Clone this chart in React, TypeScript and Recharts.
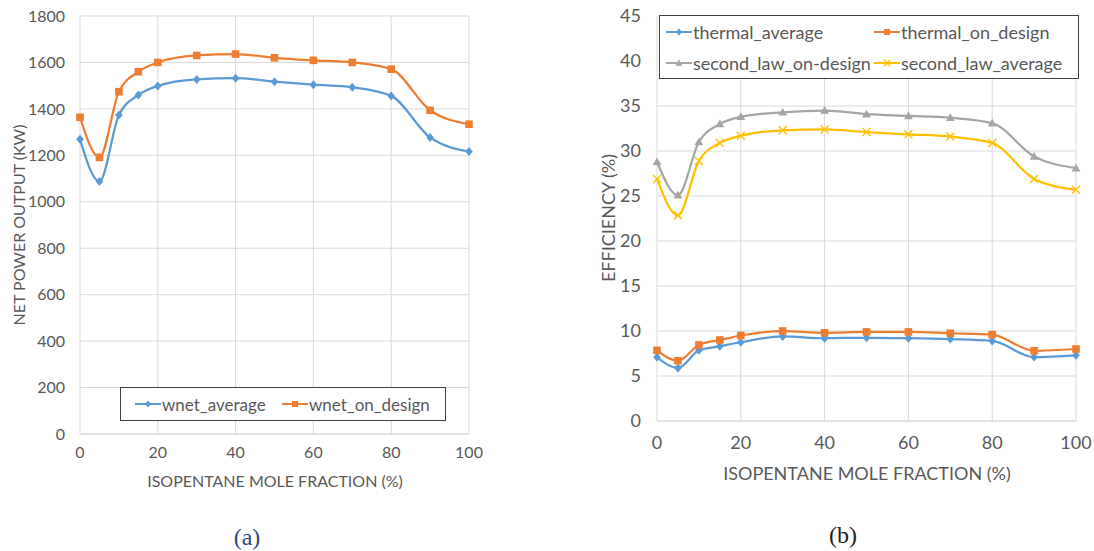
import React from 'react';
import { LineChart, Line, XAxis, YAxis, CartesianGrid } from 'recharts';

// isopentane mole fraction (%)
const fraction = [0, 5, 10, 15, 20, 30, 40, 50, 60, 70, 80, 90, 100];

// (a) net power output, kW
const wnetAverage = [1269, 1087, 1374, 1460, 1499, 1527, 1532, 1517, 1504, 1493, 1456, 1277, 1216];
const wnetOnDesign = [1364, 1191, 1474, 1560, 1600, 1630, 1636, 1620, 1609, 1600, 1571, 1394, 1334];

// (b) efficiency, %
const thermalAverage = [7.07, 5.9, 7.85, 8.3, 8.75, 9.4, 9.2, 9.25, 9.2, 9.1, 8.9, 7.1, 7.3];
const thermalOnDesign = [7.85, 6.7, 8.45, 9.0, 9.5, 10.0, 9.8, 9.9, 9.9, 9.75, 9.6, 7.8, 8.0];
const secondLawOnDesign = [28.8, 25.1, 31.0, 33.0, 33.8, 34.3, 34.5, 34.1, 33.9, 33.7, 33.1, 29.4, 28.1];
const secondLawAverage = [26.9, 22.85, 28.9, 30.9, 31.7, 32.3, 32.4, 32.1, 31.85, 31.6, 30.9, 26.9, 25.7];

const xTicks = [0, 20, 40, 60, 80, 100];
const powerTicks = [0, 200, 400, 600, 800, 1000, 1200, 1400, 1600, 1800];
const effTicks = [0, 5, 10, 15, 20, 25, 30, 35, 40, 45];

const BLUE = '#5B9BD5';
const ORANGE = '#ED7D31';
const GRAY = '#A5A5A5';
const YELLOW = '#FFC000';
const TEXT = '#595959';
const GRID = '#D9D9D9';
const FONT = 'Lato, "Open Sans", sans-serif';

const powerData = fraction.map((f, i) => ({
  f,
  wnet_average: wnetAverage[i],
  wnet_on_design: wnetOnDesign[i],
}));

const effData = fraction.map((f, i) => ({
  f,
  thermal_average: thermalAverage[i],
  thermal_on_design: thermalOnDesign[i],
  second_law_on_design: secondLawOnDesign[i],
  second_law_average: secondLawAverage[i],
}));

type Shape = 'diamond' | 'square' | 'triangle' | 'x';

function marker(shape: Shape, color: string, cx: number, cy: number, s = 1) {
  if (shape === 'diamond') {
    const r = 4.5 * s;
    return <path d={`M${cx},${cy - r}L${cx + r * 0.85},${cy}L${cx},${cy + r}L${cx - r * 0.85},${cy}Z`} fill={color} />;
  }
  if (shape === 'square') {
    const r = 3.8 * s;
    return <rect x={cx - r} y={cy - r} width={r * 2} height={r * 2} fill={color} />;
  }
  if (shape === 'triangle') {
    const r = 4.4 * s;
    return <path d={`M${cx},${cy - r}L${cx + r},${cy + r * 0.75}L${cx - r},${cy + r * 0.75}Z`} fill={color} />;
  }
  const r = 4 * s;
  return (
    <path
      d={`M${cx - r},${cy - r}L${cx + r},${cy + r}M${cx - r},${cy + r}L${cx + r},${cy - r}`}
      stroke={color}
      strokeWidth={1.4}
      fill="none"
    />
  );
}

const dot = (shape: Shape, color: string) => (p: any) => (
  <g key={`${shape}-${p.index}`}>{marker(shape, color, p.cx, p.cy)}</g>
);

interface LegendItem {
  name: string;
  color: string;
  shape: Shape;
}

function LegendBox({
  items, colWidths, fontSize, rowHeight, left, top, width, padLeft,
}: {
  items: LegendItem[]; colWidths: number[]; fontSize: number; rowHeight: number; left: number; top: number; width: number; padLeft: number;
}) {
  return (
    <div
      style={{
        position: 'absolute',
        left,
        top,
        width,
        border: '1.5px solid #404040',
        background: '#fff',
        boxSizing: 'border-box',
        display: 'flex',
        flexWrap: 'wrap',
        paddingLeft: padLeft,
        fontFamily: FONT,
        fontSize,
        color: TEXT,
      }}
    >
      {items.map((it, i) => (
        <div key={it.name} style={{ display: 'flex', alignItems: 'center', width: colWidths[i % colWidths.length], height: rowHeight }}>
          <svg width={26} height={12} style={{ marginRight: 1 }}>
            <line x1={0} y1={6} x2={26} y2={6} stroke={it.color} strokeWidth={2} />
            {marker(it.shape, it.color, 13, 6, 0.8)}
          </svg>
          <span>{it.name}</span>
        </div>
      ))}
    </div>
  );
}

const tickStyle = (size: number) => ({ fill: TEXT, fontSize: size, fontFamily: FONT });

export default function App() {
  return (
    <div style={{ position: 'absolute', left: 0, top: 0, width: 1094, height: 551, background: '#fff', overflow: 'hidden' }}>
      {/* (a) */}
      <div style={{ position: 'absolute', left: 0, top: 0 }}>
        <LineChart width={500} height={551} data={powerData} margin={{ top: 16, right: 31, left: 20, bottom: 87 }}>
          <CartesianGrid stroke={GRID} strokeWidth={1} />
          <XAxis
            dataKey="f"
            type="number"
            domain={[0, 100]}
            ticks={xTicks}
            axisLine={{ stroke: GRID }}
            tickLine={false}
            tickMargin={7}
            height={30}
            tick={tickStyle(16)}
          />
          <YAxis
            domain={[0, 1800]}
            ticks={powerTicks}
            axisLine={false}
            tickLine={false}
            tickMargin={9}
            width={60}
            tick={tickStyle(16)}
          />
          <Line type="monotone" dataKey="wnet_average" stroke={BLUE} strokeWidth={2.25} dot={dot('diamond', BLUE)} isAnimationActive={false} />
          <Line type="monotone" dataKey="wnet_on_design" stroke={ORANGE} strokeWidth={2.25} dot={dot('square', ORANGE)} isAnimationActive={false} />
        </LineChart>
      </div>
      <LegendBox
        left={120}
        top={387}
        width={326}
        padLeft={14}
        items={[
          { name: 'wnet_average', color: BLUE, shape: 'diamond' },
          { name: 'wnet_on_design', color: ORANGE, shape: 'square' },
        ]}
        colWidths={[147, 160]}
        fontSize={17}
        rowHeight={32}
      />
      <div
        style={{
          position: 'absolute',
          left: 18,
          top: 225,
          transform: 'translate(-50%, -50%) rotate(-90deg)',
          whiteSpace: 'nowrap',
          fontFamily: FONT,
          fontSize: 16,
          color: TEXT,
        }}
      >
        NET POWER OUTPUT (KW)
      </div>
      <div
        style={{ position: 'absolute', left: 275, top: 480, transform: 'translate(-50%, -50%)', whiteSpace: 'nowrap', fontFamily: FONT, fontSize: 16, color: TEXT }}
      >
        ISOPENTANE MOLE FRACTION (%)
      </div>
      <div
        style={{ position: 'absolute', left: 247, top: 537, transform: 'translate(-50%, -50%)', fontFamily: '"Liberation Serif", serif', fontSize: 24, color: '#2E4A7D' }}
      >
        (a)
      </div>

      {/* (b) */}
      <div style={{ position: 'absolute', left: 580, top: 0 }}>
        <LineChart width={514} height={551} data={effData} margin={{ top: 16, right: 18, left: 17, bottom: 100 }}>
          <CartesianGrid stroke={GRID} strokeWidth={1} />
          <XAxis
            dataKey="f"
            type="number"
            domain={[0, 100]}
            ticks={xTicks}
            axisLine={{ stroke: GRID }}
            tickLine={false}
            tickMargin={9}
            height={30}
            tick={tickStyle(18)}
          />
          <YAxis
            domain={[0, 45]}
            ticks={effTicks}
            axisLine={false}
            tickLine={false}
            tickMargin={10}
            width={60}
            tick={tickStyle(18)}
          />
          <Line type="monotone" dataKey="thermal_average" stroke={BLUE} strokeWidth={2.25} dot={dot('diamond', BLUE)} isAnimationActive={false} />
          <Line type="monotone" dataKey="thermal_on_design" stroke={ORANGE} strokeWidth={2.25} dot={dot('square', ORANGE)} isAnimationActive={false} />
          <Line type="monotone" dataKey="second_law_on_design" stroke={GRAY} strokeWidth={2.25} dot={dot('triangle', GRAY)} isAnimationActive={false} />
          <Line type="monotone" dataKey="second_law_average" stroke={YELLOW} strokeWidth={2.25} dot={dot('x', YELLOW)} isAnimationActive={false} />
        </LineChart>
      </div>
      <LegendBox
        left={659}
        top={15}
        width={420}
        padLeft={6}
        items={[
          { name: 'thermal_average', color: BLUE, shape: 'diamond' },
          { name: 'thermal_on_design', color: ORANGE, shape: 'square' },
          { name: 'second_law_on-design', color: GRAY, shape: 'triangle' },
          { name: 'second_law_average', color: YELLOW, shape: 'x' },
        ]}
        colWidths={[208, 200]}
        fontSize={18}
        rowHeight={31}
      />
      <div
        style={{
          position: 'absolute',
          left: 608,
          top: 218,
          transform: 'translate(-50%, -50%) rotate(-90deg)',
          whiteSpace: 'nowrap',
          fontFamily: FONT,
          fontSize: 18,
          color: TEXT,
        }}
      >
        EFFICIENCY (%)
      </div>
      <div
        style={{ position: 'absolute', left: 867, top: 473, transform: 'translate(-50%, -50%)', whiteSpace: 'nowrap', fontFamily: FONT, fontSize: 18, color: TEXT }}
      >
        ISOPENTANE MOLE FRACTION (%)
      </div>
      <div
        style={{ position: 'absolute', left: 843, top: 535, transform: 'translate(-50%, -50%)', fontFamily: '"Liberation Serif", serif', fontSize: 24, color: '#222' }}
      >
        (b)
      </div>
    </div>
  );
}
